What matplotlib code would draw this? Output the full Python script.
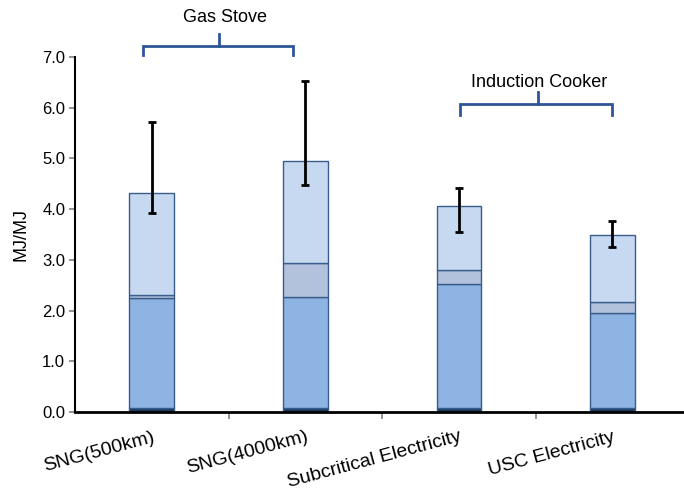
import numpy as np
import matplotlib
matplotlib.use("Agg")
import matplotlib.pyplot as plt

plt.rcParams['font.family'] = ['Liberation Sans', 'DejaVu Sans']

categories = ['SNG(500km)', 'SNG(4000km)', 'Subcritical Electricity', 'USC Electricity']
seg_dark = [0.08, 0.08, 0.07, 0.07]
seg_mid = [2.17, 2.19, 2.45, 1.88]
seg_grey = [0.06, 0.67, 0.27, 0.22]
seg_light = [2.01, 2.01, 1.28, 1.31]
err_low = [3.93, 4.48, 3.54, 3.26]
err_high = [5.72, 6.53, 4.42, 3.76]

fig = plt.figure(figsize=(6.84, 4.91), dpi=100)
ax = fig.add_axes([0.1096, 0.161, 0.898, 0.723])

x = np.arange(len(categories))
w = 0.29
edge = '#385d8a'
bottom = np.zeros(len(x))
for seg, col in [(seg_dark, '#17375e'), (seg_mid, '#8eb4e3'),
                 (seg_grey, '#b3c2dc'), (seg_light, '#c6d9f1')]:
    ax.bar(x, seg, w, bottom=bottom, color=col, edgecolor=edge, linewidth=1, zorder=2)
    bottom = bottom + np.array(seg)

total = bottom
yerr = [total - np.array(err_low), np.array(err_high) - total]
ax.errorbar(x, total, yerr=yerr, fmt='none', ecolor='black', elinewidth=2,
            capsize=3, capthick=2, zorder=3)

ax.set_xlim(-0.5, 3.5)
ax.set_ylim(0, 7)
ax.set_yticks(np.arange(0, 7.1, 1))
ax.set_yticklabels(['%.1f' % v for v in np.arange(0, 7.1, 1)], fontsize=12)
ax.set_xticks(x)
ax.set_xticklabels(categories, fontsize=14, rotation=15, ha='right',
                   rotation_mode='anchor')
ax.set_xticks([0.5, 1.5, 2.5], minor=True)
ax.tick_params(axis='x', which='major', length=0, pad=12)
ax.tick_params(axis='x', which='minor', length=5, color='#808080', width=1.2)
ax.tick_params(axis='y', length=4, color='#808080', width=1.2, pad=3)
ax.set_ylabel('MJ/MJ', fontsize=13, labelpad=9)

for s in ['top', 'right']:
    ax.spines[s].set_visible(False)
ax.spines['left'].set_linewidth(1.5)
ax.spines['bottom'].set_linewidth(2)

# group brackets
bcol = '#2f5597'
groups = [('Gas Stove', -0.06, 0.92, 7.22, 0.18, 0.23, 0.48, 7.77),
          ('Induction Cooker', 2.01, 3.0, 6.07, 0.21, 0.24, 2.52, 6.49)]
for label, x0, x1, yb, leg, up, tx, ty in groups:
    xm = (x0 + x1) / 2 + 0.01
    ax.plot([x0, x0, x1, x1], [yb - leg, yb, yb, yb - leg], color=bcol,
            lw=2, clip_on=False, solid_joinstyle='miter')
    ax.plot([xm, xm], [yb, yb + up], color=bcol, lw=2, clip_on=False)
    ax.text(tx, ty, label, ha='center', va='center', fontsize=13)

fig.savefig('out.png', dpi=100)
